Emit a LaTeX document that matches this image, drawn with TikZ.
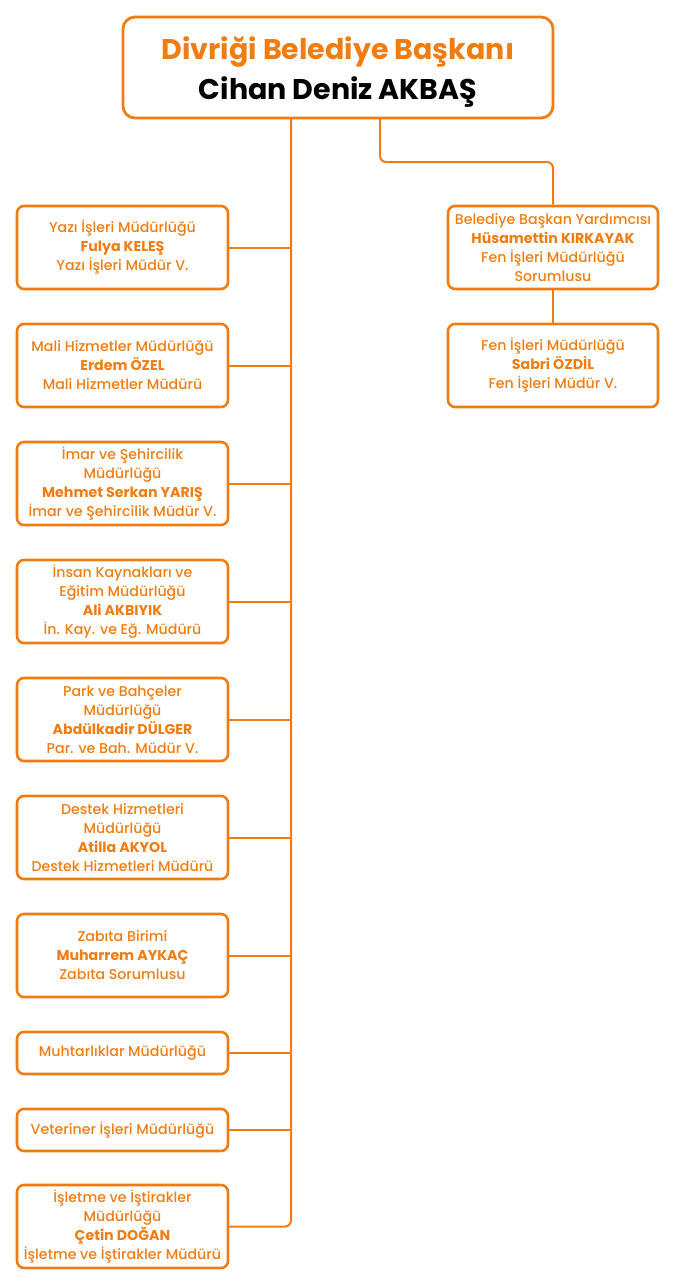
\documentclass[tikz,border=0pt]{standalone}
\usepackage{fontspec}
\setmainfont{Poppins}[UprightFont={* Medium}, BoldFont={* Bold}]
\definecolor{org}{RGB}{239,125,18}
\begin{document}
\begin{tikzpicture}[x=1pt,y=-1pt]
\tikzset{
  box/.style={draw=org, line width=2.6pt, rounded corners=7pt, minimum width=211pt, minimum height=83pt, text=org, align=center, font=\fontsize{14.2}{19}\selectfont, inner sep=0pt},
  sbox/.style={box, minimum height=42pt},
  headbox/.style={draw=org, line width=2.8pt, rounded corners=12pt, minimum width=430pt, minimum height=101pt, inner sep=0pt},
  headtext/.style={align=center, inner sep=0pt, font=\fontsize{28.5}{40}\selectfont\bfseries},
  conn/.style={draw=org, line width=2pt, rounded corners=6pt}
}
\useasboundingbox (0,0) rectangle (676,1286);
\node[headbox] (top) at (338,67.5) {};
\node[headtext] (toptext) at (338,71.5) {\textcolor{org}{Divriği Belediye Başkanı}\\Cihan Deniz AKBAŞ};

\node[box] (b1) at (122.5,247.5) {Yazı İşleri Müdürlüğü\\\textbf{Fulya KELEŞ}\\Yazı İşleri Müdür V.};
\node[box] (b2) at (122.5,365.5) {Mali Hizmetler Müdürlüğü\\\textbf{Erdem ÖZEL}\\Mali Hizmetler Müdürü};
\node[box] (b3) at (122.5,483.5) {İmar ve Şehircilik\\Müdürlüğü\\\textbf{Mehmet Serkan YARIŞ}\\İmar ve Şehircilik Müdür V.};
\node[box] (b4) at (122.5,601.5) {İnsan Kaynakları ve\\Eğitim Müdürlüğü\\\textbf{Ali AKBIYIK}\\İn. Kay. ve Eğ. Müdürü};
\node[box] (b5) at (122.5,719.5) {Park ve Bahçeler\\Müdürlüğü\\\textbf{Abdülkadir DÜLGER}\\Par. ve Bah. Müdür V.};
\node[box] (b6) at (122.5,837.5) {Destek Hizmetleri\\Müdürlüğü\\\textbf{Atilla AKYOL}\\Destek Hizmetleri Müdürü};
\node[box] (b7) at (122.5,955.5) {Zabıta Birimi\\\textbf{Muharrem AYKAÇ}\\Zabıta Sorumlusu};
\node[sbox] (b8) at (122.5,1053) {Muhtarlıklar Müdürlüğü};
\node[sbox] (b9) at (122.5,1130) {Veteriner İşleri Müdürlüğü};
\node[box] (b10) at (122.5,1226.5) {İşletme ve İştirakler\\Müdürlüğü\\\textbf{Çetin DOĞAN}\\İşletme ve İştirakler Müdürü};

\node[box, minimum width=210pt] (r1) at (553,247.5) {Belediye Başkan Yardımcısı\\\textbf{Hüsamettin KIRKAYAK}\\Fen İşleri Müdürlüğü\\Sorumlusu};
\node[box, minimum width=210pt] (r2) at (553,365.5) {Fen İşleri Müdürlüğü\\\textbf{Sabri ÖZDİL}\\Fen İşleri Müdür V.};

\coordinate (t1) at (291,118);
\coordinate (t2) at (380,118);
\draw[conn] (t1) |- (b10.east);
\foreach \b in {b1,b2,b3,b4,b5,b6,b7,b8,b9}
  \draw[conn] (\b.east) -- (\b.east -| t1);
\draw[conn] (t2) -- ++(0,44) -| (r1.north);
\draw[conn] (r1.south) -- (r2.north);
\end{tikzpicture}
\end{document}
